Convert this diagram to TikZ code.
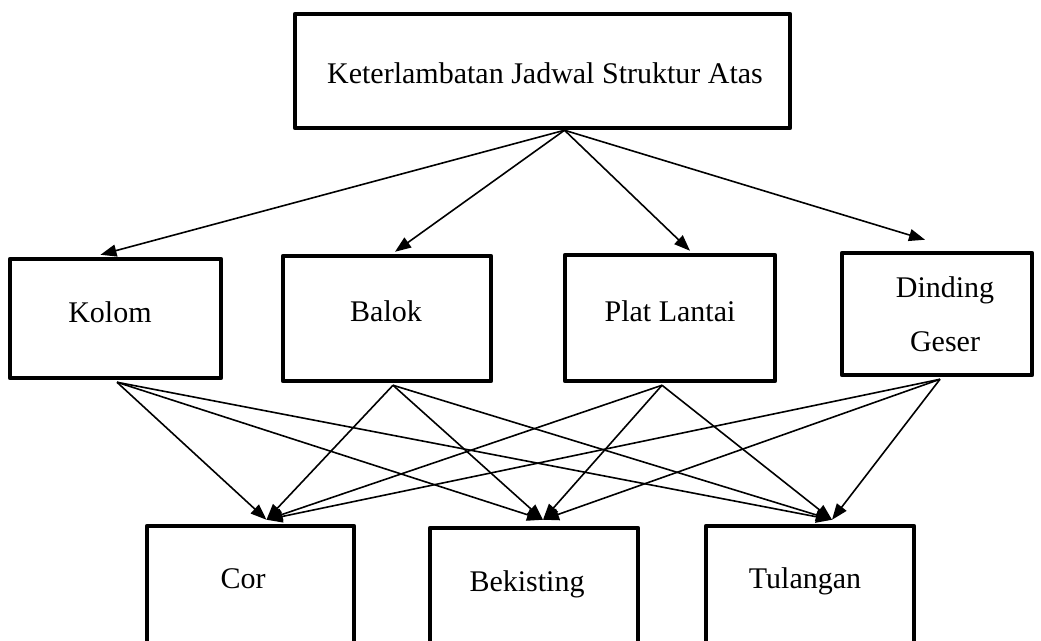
\documentclass[tikz,border=0pt]{standalone}
\usepackage{fontspec}
\setmainfont{Liberation Serif}
\usetikzlibrary{arrows.meta}
\begin{document}
\begin{tikzpicture}[x=1pt,y=-1pt,
  box/.style={draw, line width=4.5pt, inner sep=0pt, line join=round},
  lbl/.style={font=\fontsize{30}{36}\selectfont, anchor=base, inner sep=0pt},
  arr/.style={line width=1.6pt, -{Triangle[length=16pt,width=12pt]}}]
\useasboundingbox (0,0) rectangle (1041,640);
\begin{scope}
\clip (0,0) rectangle (1041,640);
% boxes
\node[box, minimum width=495pt, minimum height=114pt] (top) at (542.5,71) {};
\node[box, minimum width=211pt, minimum height=119pt] (kolom) at (115.5,318.5) {};
\node[box, minimum width=208pt, minimum height=125pt] (balok) at (387,318.5) {};
\node[box, minimum width=210pt, minimum height=126pt] (plat) at (670,318) {};
\node[box, minimum width=190pt, minimum height=122pt] (dinding) at (937,314) {};
\node[box, minimum width=207pt, minimum height=134pt] (cor) at (250.5,593) {};
\node[box, minimum width=208pt, minimum height=132pt] (bekisting) at (534,594) {};
\node[box, minimum width=208pt, minimum height=134pt] (tulangan) at (810,593) {};
% labels
\node[lbl] (topT) at (545,83) {Keterlambatan Jadwal Struktur Atas};
\node[lbl] (kolomT) at (110,322) {Kolom};
\node[lbl] (balokT) at (386,321) {Balok};
\node[lbl] (platT) at (670,321) {Plat Lantai};
\node[lbl] (dindingT) at (945,297) {Dinding};
\node[lbl] (geserT) at (945,351) {Geser};
\node[lbl] (corT) at (243,588) {Cor};
\node[lbl] (bekistingT) at (527,591) {Bekisting};
\node[lbl] (tulanganT) at (805,588) {Tulangan};
% anchor points
\coordinate (topS) at ([xshift=22pt]top.south);
\coordinate (kolomN) at ([xshift=-15pt,yshift=2pt]kolom.north);
\coordinate (balokN) at ([xshift=8pt,yshift=2pt]balok.north);
\coordinate (platN) at ([xshift=20pt,yshift=2pt]plat.north);
\coordinate (dindingN) at ([xshift=-12pt,yshift=11pt]dinding.north);
\coordinate (kolomS) at ([xshift=1.5pt,yshift=-2pt]kolom.south);
\coordinate (balokS) at ([xshift=6pt,yshift=-2pt]balok.south);
\coordinate (platS) at ([xshift=-8pt,yshift=-2pt]plat.south);
\coordinate (dindingS) at ([xshift=3pt,yshift=-2pt]dinding.south);
\coordinate (corN) at ([xshift=16pt,yshift=4pt]cor.north);
\coordinate (bekistingN) at ([xshift=9pt,yshift=6pt]bekisting.north);
\coordinate (tulanganN) at ([xshift=22pt,yshift=4pt]tulangan.north);
% top arrows
\foreach \t in {kolomN,balokN,platN,dindingN} \draw[arr] (topS) -- (\t);
% lower arrows
\foreach \s in {kolomS,balokS,platS,dindingS}
  \foreach \t in {corN,bekistingN,tulanganN}
    \draw[arr] (\s) -- (\t);
\end{scope}
\end{tikzpicture}
\end{document}
